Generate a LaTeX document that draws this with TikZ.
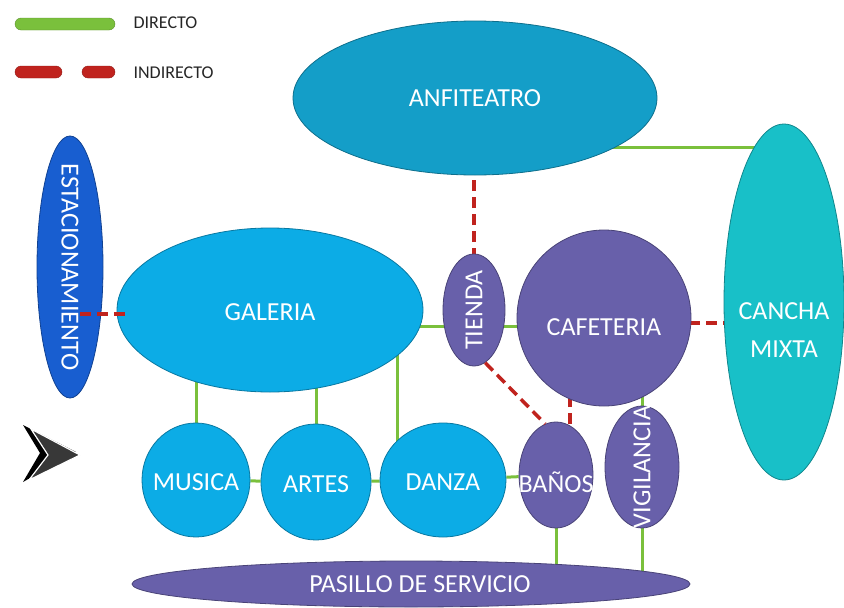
\documentclass[tikz,border=0pt]{standalone}
\usepackage{fontspec}
\setmainfont{Carlito}
\usepackage{tikz}
\usetikzlibrary{shapes.geometric,backgrounds}
\definecolor{anfiblue}{RGB}{20,158,200}
\definecolor{galblue}{RGB}{12,172,230}
\definecolor{estblue}{RGB}{24,94,208}
\definecolor{canchateal}{RGB}{24,192,200}
\definecolor{purp}{RGB}{104,96,170}
\definecolor{verde}{RGB}{122,192,60}
\definecolor{rojo}{RGB}{192,35,30}

\begin{document}
\begin{tikzpicture}[x=1pt, y=-1pt,
    every node/.style={font=\fontsize{26}{30}\selectfont},
    every label/.style={text=white},
    area/.style={ellipse, draw=#1!70!black, fill=#1, line width=0.8pt, inner sep=0pt},
    legbar/.style={draw=#1!75!black, fill=#1, rounded corners=6pt, minimum height=12pt, inner sep=0pt},
    legtext/.style={anchor=west, text=black!85, font=\fontsize{18}{20}\selectfont},
    directo/.style={verde, line width=3pt},
    indirecto/.style={rojo, line width=3.5pt, dash pattern=on 11pt off 6pt}]
  \useasboundingbox (0,0) rectangle (844,608);

  % legend
  \node[legbar=verde, minimum width=100pt] (legdir) at (65,24) {};
  \node[legbar=rojo, minimum width=47pt] (legind) at (38.5,72) {};
  \node[legbar=rojo, minimum width=33pt] (legindb) at (98.5,72) {};
  \node[legtext] (txtdir) at (130,23) {DIRECTO};
  \node[legtext] (txtind) at (130,73) {INDIRECTO};

  % arrow mark
  \fill[black] (23,425) -- (76,452) -- (23,482) -- (40,453) -- cycle;
  \filldraw[fill=black!78, draw=white, line width=1.2pt]
    (31,429) -- (80,455) -- (29,480) -- (48,455) -- cycle;

  % areas
  \node[area=anfiblue, minimum width=364pt, minimum height=154pt,
        label=center:ANFITEATRO] (anfi) at (475,98) {};
  \node[area=canchateal, minimum width=120pt, minimum height=356pt,
        label={[align=center, yshift=-28pt, font=\fontsize{26}{38}\selectfont]center:CANCHA\\MIXTA}]
        (cancha) at (784,302) {};
  \node[area=estblue, minimum width=66pt, minimum height=262pt,
        label={[rotate=-90]center:ESTACIONAMIENTO}] (estac) at (70,267) {};
  \node[area=galblue, minimum width=306pt, minimum height=164pt,
        label={[yshift=-2pt]center:GALERIA}] (galeria) at (270,310) {};
  \node[area=purp, minimum width=62pt, minimum height=112pt,
        label={[rotate=90]center:TIENDA}] (tienda) at (474,310) {};
  \node[area=purp, minimum width=174pt, minimum height=176pt,
        label={[yshift=-9pt]center:CAFETERIA}] (cafe) at (604,318) {};
  \node[area=galblue, minimum width=108pt, minimum height=114pt,
        label={[yshift=-2pt]center:MUSICA}] (musica) at (196,480) {};
  \node[area=galblue, minimum width=110pt, minimum height=116pt,
        label={[yshift=-2pt]center:ARTES}] (artes) at (316,482) {};
  \node[area=galblue, minimum width=126pt, minimum height=114pt,
        label={[yshift=-2pt]center:DANZA}] (danza) at (443,480) {};
  \node[area=purp, minimum width=74pt, minimum height=106pt,
        label={[yshift=-7pt]center:BAÑOS}] (banos) at (556,475) {};
  \node[area=purp, minimum width=74pt, minimum height=122pt,
        label={[rotate=90]center:VIGILANCIA}] (vigil) at (642,467) {};
  \node[area=purp, minimum width=558pt, minimum height=46pt,
        label={[xshift=9pt]center:PASILLO DE SERVICIO}] (pasillo) at (411,584) {};

  % direct links
  \begin{scope}[on background layer]
    \draw[directo] ([yshift=-49pt]anfi.center) -- ([yshift=-49pt]anfi.center -| cancha.center);
    \draw[directo] ([yshift=-16pt]galeria.center) -- ([yshift=-16pt]galeria.center -| tienda.center);
    \draw[directo] ([yshift=-8pt]cafe.center) -- ([yshift=-8pt]cafe.center -| tienda.center);
    \draw[directo] (musica.center) -- (musica.center |- galeria.center);
    \draw[directo] (artes.center) -- (artes.center |- galeria.center);
    \draw[directo] ([xshift=-46pt]danza.center) -- ([xshift=-46pt]danza.center |- galeria.center);
    \draw[directo] (musica) -- (artes);
    \draw[directo] (artes) -- (danza);
    \draw[directo] (danza) -- (banos);
    \draw[directo] (vigil.center) -- (vigil.center |- cafe.center);
    \draw[directo] (banos.center) -- (banos.center |- pasillo.center);
    \draw[directo] (vigil.center) -- (vigil.center |- pasillo.center);
    % indirect links
    \draw[indirecto] (tienda.center) -- (tienda.center |- anfi.center);
    \draw[indirecto] ([xshift=14pt]banos.center) -- ([xshift=14pt]banos.center |- cafe.center);
    \draw[indirecto] ([yshift=-5pt]cafe.center) -- ([yshift=-5pt]cafe.center -| cancha.center);
  \end{scope}
  \draw[indirecto] ([xshift=10pt, yshift=-47pt]estac.center)
    -- ([xshift=10pt, yshift=-47pt]estac.center -| galeria.west);
  \draw[indirecto] (tienda.-78) -- (banos.102);
\end{tikzpicture}
\end{document}
